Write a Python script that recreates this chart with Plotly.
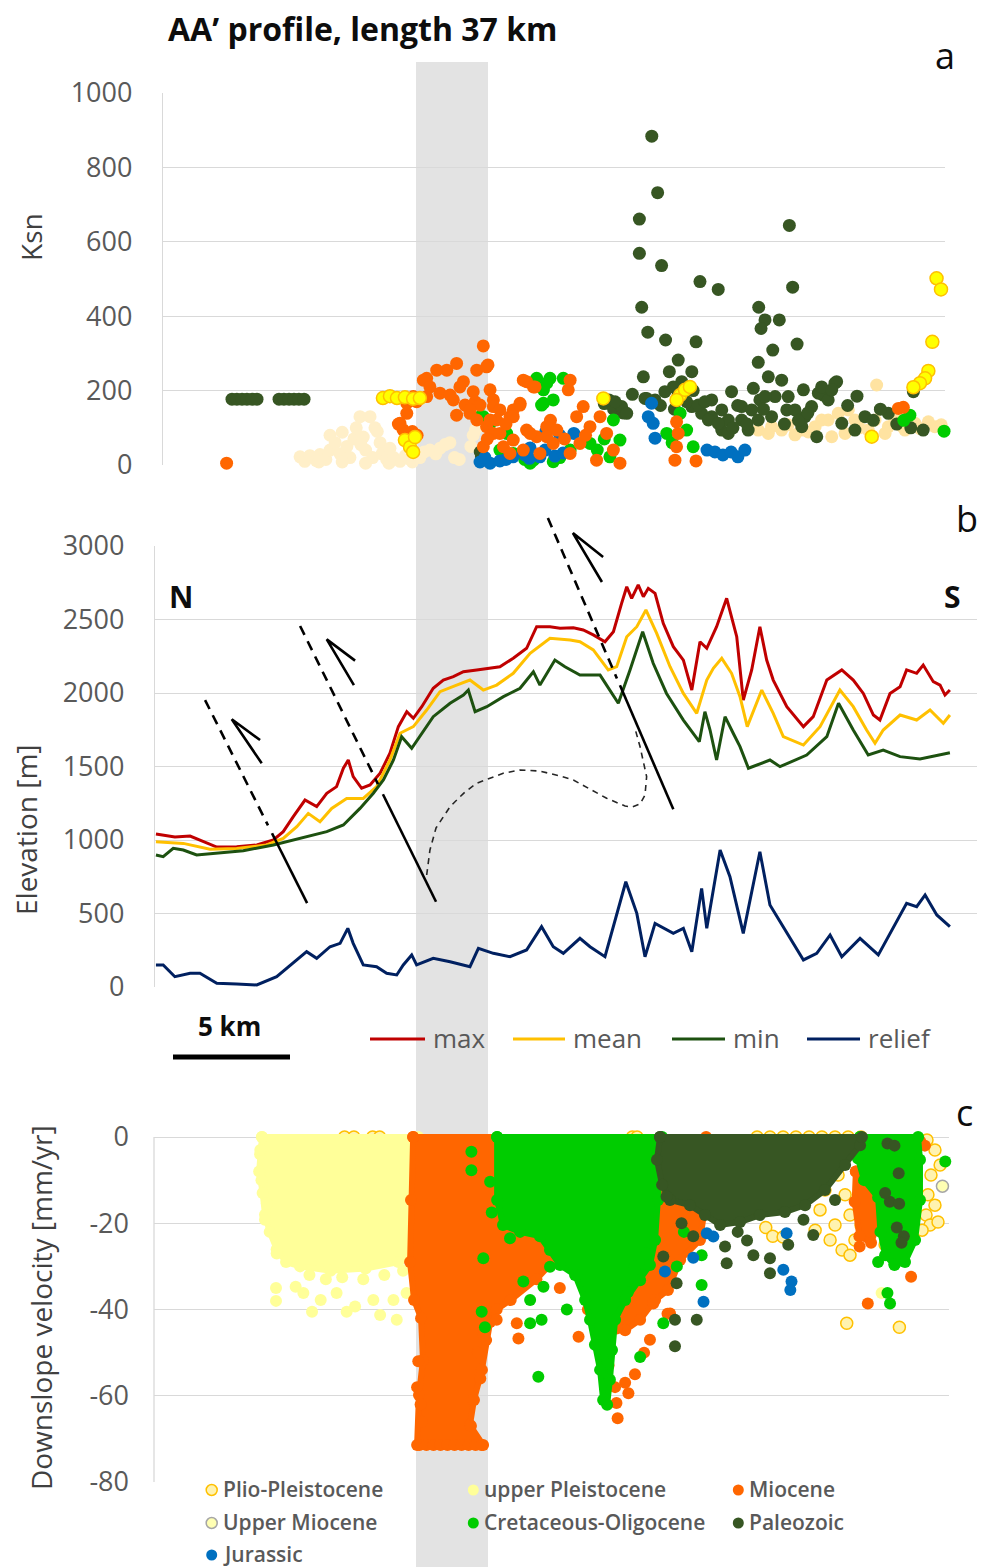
import plotly.graph_objects as go

W, H = 985, 1567
OFF = 8  # page body margin of the html page (px)


def px_x(p):
    return (p - OFF) / W


def px_y(p):
    return 1 - (p - OFF) / H


# ---------------- colours ----------------
PALEO = "#375623"
CRET = "#00CC00"
MIO = "#FF6600"
JUR = "#0070C0"
UPLEI = "#FFFF99"
PLIO_EDGE = "#FFC000"
PLIO_FILL_A = "#FFFF00"
PLIO_FILL_C = "#FFF3B0"
UMIO_FILL = "#FFFFB3"
UMIO_EDGE = "#A6A6A6"
TAN_L = "#FFEFC9"
TAN_R = "#FFE3A1"
LINE_COLORS = {"max": "#C00000", "mean": "#FFC000", "min": "#1D5110", "relief": "#002060"}

# ================= Panel a : Ksn (distance km, Ksn) =================
A_PALEO = [(3.29, 177), (3.50, 177), (3.72, 177), (3.93, 177), (4.15, 177), (4.36, 177),
           (5.30, 177), (5.51, 177), (5.73, 177), (5.94, 177), (6.15, 177), (6.37, 177),
           (13.9, 35), (14.1, 15), (13.95, 22), (19.2, 165), (19.6, 150), (20.0, 140), (19.4, 175),
           (21.23, 884), (21.48, 732), (20.70, 661), (20.70, 569), (21.65, 536), (23.29, 493),
           (24.07, 472), (27.11, 644), (27.25, 478), (20.80, 424), (21.06, 357), (21.82, 336),
           (23.12, 331), (27.44, 325), (25.80, 424), (26.07, 390), (26.68, 390), (25.90, 367),
           (26.40, 309), (25.78, 276), (22.36, 282), (20.87, 237), (21.98, 251), (22.94, 251),
           (26.21, 237), (26.78, 228), (27.71, 202), (29.13, 224), (28.56, 188), (24.64, 197),
           (21.01, 179), (22.51, 224), (22.15, 210), (21.79, 197), (20.94, 179), (21.37, 175),
           (19.94, 157), (19.66, 170), (20.16, 139), (22.94, 157), (23.36, 139), (23.79, 130),
           (24.22, 148), (25.07, 157), (25.57, 206), (25.85, 175), (26.50, 184), (28.35, 193),
           (29.06, 220), (28.77, 175), (28.06, 157), (27.78, 130), (27.64, 103), (23.65, 121),
           (24.22, 94), (24.50, 85), (25.07, 121), (25.35, 94), (25.50, 148), (26.35, 130),
           (27.00, 148), (28.28, 76), (31.34, 139), (32.41, 197), (32.83, 94), (29.35, 112),
           (29.91, 94), (30.34, 130), (22.36, 188), (22.72, 170), (23.22, 161), (23.79, 175),
           (24.50, 121), (24.07, 112), (25.78, 121), (26.07, 184), (27.06, 184), (27.35, 148),
           (28.49, 210), (28.92, 202), (27.5, 120), (27.9, 140), (31.7, 110), (32.3, 100),
           (23.0, 200), (24.9, 160), (25.3, 110), (26.0, 150), (26.9, 110), (24.7, 100),
           (23.5, 170), (22.2, 150), (21.6, 160), (20.4, 190), (29.6, 160), (30.0, 185),
           (30.7, 120), (31.0, 150)]
A_TAN_L = [(6.2, 22), (6.4, 10), (6.62, 25), (6.9, 12), (7.05, 28), (7.3, 15), (7.48, 40),
           (7.48, 80), (7.7, 60), (7.91, 30), (8.0, 88), (8.2, 50), (8.33, 20), (8.5, 70),
           (8.6, 100), (8.76, 130), (8.9, 75), (9.0, 40), (9.19, 130), (9.3, 20), (9.4, 100),
           (9.62, 60), (9.7, 30), (9.9, 15), (10.04, 45), (10.2, 20), (10.47, 10), (10.7, 25),
           (10.9, 15), (11.1, 30), (11.32, 20), (11.5, 35), (11.75, 40), (12.0, 30), (12.18, 45),
           (12.4, 55), (12.6, 60), (12.8, 20), (13.0, 15), (13.5, 50), (13.6, 80), (13.7, 95),
           (7.0, 8), (8.0, 8), (9.0, 5), (10.0, 5), (11.0, 8), (8.8, 55), (9.5, 90)]
A_TAN_R = [(25.78, 94), (26.35, 103), (27.06, 108), (27.64, 94), (28.21, 103), (28.77, 121),
           (29.20, 139), (29.63, 148), (29.91, 121), (30.48, 94), (28.92, 76), (29.49, 85),
           (30.77, 121), (31.34, 103), (32.05, 94), (32.48, 112), (33.05, 116), (33.33, 103),
           (31.20, 85), (31.62, 121), (30.84, 215), (26.21, 85), (26.78, 94), (27.35, 81),
           (27.92, 89), (28.49, 121), (30.1, 100), (31.9, 105), (32.7, 98), (33.6, 108)]
A_PLIO = [(9.74, 180), (10.04, 185), (10.34, 180), (10.68, 182), (11.03, 178), (11.32, 180),
          (10.68, 67), (10.90, 48), (11.11, 75), (11.03, 35), (19.16, 179), (22.44, 188),
          (22.65, 202), (22.86, 210), (22.29, 175), (33.40, 502), (33.59, 472), (33.22, 331),
          (33.05, 253), (32.91, 233), (32.69, 220), (32.41, 209), (30.63, 76)]
A_MIO = [(3.06, 5), (14.03, 320), (14.23, 269), (13.75, 255), (12.89, 273), (12.47, 255),
         (12.04, 255), (11.61, 233), (11.47, 228), (11.75, 210), (12.18, 193), (13.18, 224),
         (13.60, 197), (14.32, 202), (12.75, 175), (13.25, 161), (13.68, 170), (13.89, 161),
         (14.46, 175), (12.89, 134), (13.46, 139), (11.18, 170), (10.76, 139), (10.47, 112),
         (11.04, 85), (14.46, 157), (14.74, 148), (15.17, 130), (15.60, 166), (15.88, 224),
         (16.17, 210), (10.4, 110), (10.6, 95), (11.0, 90), (11.2, 80), (10.76, 166),
         (11.04, 184), (11.61, 184), (12.61, 188), (13.03, 210), (13.46, 148), (13.75, 121),
         (14.17, 103), (14.46, 85), (14.89, 49), (15.31, 67), (15.88, 94), (16.31, 76),
         (16.74, 103), (17.02, 58), (15.17, 31), (15.74, 40), (16.45, 31), (14.03, 49),
         (14.60, 121), (15.31, 148), (15.74, 228), (16.24, 210), (17.74, 228), (17.66, 202),
         (15.60, 161), (14.17, 264), (14.32, 121), (15.31, 130), (14.74, 85), (16.03, 85),
         (16.74, 76), (17.17, 94), (18.30, 157), (18.02, 130), (18.59, 103), (19.02, 130),
         (19.30, 85), (19.59, 40), (19.87, 5), (18.16, 58), (17.74, 31), (18.87, 13),
         (22.29, 116), (22.36, 85), (22.29, 49), (22.22, 13), (23.12, 11), (31.98, 155),
         (31.77, 152), (17.5, 70), (18.4, 80), (16.9, 120), (15.0, 110), (14.2, 70)]
A_CRET = [(16.31, 233), (16.88, 233), (17.45, 233), (16.60, 202), (17.02, 175), (16.52, 161),
          (14.03, 130), (14.32, 112), (14.74, 40), (16.17, 13), (17.02, 9), (17.74, 40),
          (18.59, 58), (19.59, 121), (19.87, 67), (19.44, 22), (22.44, 139), (21.87, 85),
          (22.72, 94), (23.00, 49), (15.31, 31), (33.72, 91), (32.26, 134), (16.74, 220),
          (16.60, 166), (13.89, 130), (15.03, 85), (16.03, 5), (18.9, 40), (17.3, 20),
          (15.8, 15), (19.2, 70), (22.1, 60), (32.0, 120)]
A_JUR = [(21.22, 166), (21.08, 130), (21.29, 112), (21.37, 72), (23.59, 40), (23.93, 35),
         (24.27, 27), (24.62, 35), (24.91, 22), (25.21, 40), (13.89, 8), (14.32, 5),
         (14.74, 11), (15.30, 22), (15.81, 27), (16.45, 22), (17.09, 24), (17.44, 32),
         (16.67, 40), (16.03, 46), (16.7, 90), (17.3, 80), (17.9, 85), (14.1, 20),
         (15.0, 15), (16.0, 18)]

# ================= Panel b : elevation profiles (km, m) =================
MAX_KM = [0.04, 0.35, 0.85, 1.50, 1.92, 2.64, 3.49, 4.35, 5.06, 5.48, 5.91, 6.41, 6.91, 7.34,
          7.76, 8.05, 8.26, 8.47, 8.83, 9.19, 9.62, 10.04, 10.40, 10.76, 11.04, 11.40, 11.89,
          12.32, 12.75, 13.18, 13.75, 14.32, 14.74, 15.31, 15.88, 16.31, 16.88, 17.31, 17.88,
          18.30, 18.73, 19.23, 19.59, 19.94, 20.16, 20.37, 20.65, 20.87, 21.08, 21.37, 21.72,
          22.15, 22.58, 22.94, 23.29, 23.58, 24.00, 24.43, 24.86, 25.14, 25.50, 25.85, 26.14,
          26.42, 27.00, 27.71, 28.13, 28.71, 29.35, 29.84, 30.27, 30.70, 30.98, 31.41, 31.84,
          32.12, 32.55, 32.83, 33.26, 33.55, 33.76, 33.97]
MAX_M = [1041, 1034, 1020, 1027, 1000, 952, 954, 966, 1000, 1057, 1159, 1272, 1227, 1318,
         1363, 1488, 1544, 1431, 1352, 1374, 1454, 1590, 1771, 1873, 1828, 1907, 2032,
         2088, 2111, 2145, 2157, 2168, 2179, 2236, 2304, 2451, 2451, 2440, 2444,
         2429, 2395, 2349, 2417, 2610, 2723, 2644, 2735, 2655, 2712, 2678, 2474,
         2315, 2224, 2020, 2349, 2304, 2451, 2644, 2383, 1952, 2157, 2451, 2224,
         2088, 1907, 1771, 1839, 2088, 2157, 2088, 1997, 1850, 1816, 1997, 2043,
         2157, 2134, 2190, 2077, 2054, 1986, 2020]
MEAN_KM = [0.04, 1.21, 2.35, 3.49, 4.77, 5.48, 6.06, 6.55, 7.05, 7.55, 8.19, 8.90, 9.47, 10.04,
           10.47, 11.04, 11.61, 12.18, 12.89, 13.46, 14.03, 14.60, 15.31, 16.03, 16.88, 17.74,
           18.16, 18.73, 19.37, 19.73, 20.16, 20.59, 20.98, 21.44, 22.01, 22.58, 23.15, 23.58,
           23.86, 24.22, 24.64, 25.00, 25.31, 25.93, 26.42, 26.85, 27.71, 28.42, 29.27, 29.84,
           30.41, 30.77, 31.12, 31.84, 32.55, 33.12, 33.69, 33.97]
MEAN_M = [988, 977, 937, 943, 966, 1011, 1091, 1181, 1125, 1215, 1283, 1283, 1363, 1544,
          1726, 1771, 1884, 2009, 2054, 2088, 2020, 2054, 2134, 2270, 2372, 2361,
          2349, 2293, 2157, 2179, 2383, 2451, 2565, 2406, 2179, 1997, 1862, 2088,
          2168, 2236, 2134, 1975, 1771, 2020, 1862, 1703, 1646, 1771, 2020, 1907,
          1748, 1658, 1748, 1850, 1816, 1884, 1794, 1850]
MIN_KM = [0.04, 0.35, 0.78, 1.21, 1.78, 2.64, 3.77, 5.06, 6.20, 7.34, 8.05, 8.76, 9.33, 9.76,
          10.19, 10.54, 10.97, 11.32, 11.89, 12.61, 13.18, 13.39, 13.68, 14.18, 14.89, 15.60,
          16.17, 16.45, 17.09, 17.52, 18.16, 19.02, 19.44, 19.80, 20.30, 20.84, 21.29, 21.86,
          22.58, 23.26, 23.50, 23.72, 24.00, 24.36, 24.71, 25.00, 25.36, 26.28, 26.71, 27.85,
          28.71, 29.21, 29.84, 30.48, 31.12, 31.84, 32.69, 33.97]
MIN_M = [898, 887, 943, 932, 898, 909, 927, 966, 1011, 1057, 1102, 1215, 1318, 1408,
         1544, 1703, 1624, 1703, 1839, 1930, 1986, 2020, 1873, 1907, 1975, 2032,
         2145, 2054, 2224, 2179, 2122, 2122, 2020, 1930, 2157, 2417, 2202, 1997,
         1816, 1669, 1873, 1748, 1544, 1839, 1726, 1635, 1488, 1544, 1499, 1578,
         1703, 1930, 1748, 1578, 1612, 1567, 1551, 1594]
RELIEF_KM = [0.04, 0.35, 0.85, 1.50, 1.92, 2.64, 3.49, 4.35, 5.20, 5.91, 6.48, 6.91, 7.48, 7.91,
             8.24, 8.47, 8.90, 9.47, 9.90, 10.33, 10.61, 10.97, 11.18, 11.89, 12.61, 13.46,
             13.82, 14.46, 15.17, 15.88, 16.52, 17.02, 17.45, 18.16, 18.59, 19.23, 19.73,
             20.12, 20.59, 20.94, 21.37, 22.15, 22.58, 22.94, 23.36, 23.58, 24.15, 24.57,
             25.14, 25.85, 26.28, 26.85, 27.71, 28.28, 28.85, 29.35, 30.13, 30.91, 31.56,
             32.12, 32.55, 32.91, 33.41, 33.97]
RELIEF_M = [150, 150, 70, 93, 93, 25, 20, 14, 70, 161, 240, 195, 274, 297,
            399, 297, 150, 138, 93, 82, 150, 218, 150, 195, 172, 138,
            263, 229, 206, 252, 410, 274, 229, 331, 274, 206, 501,
            716, 501, 206, 433, 365, 399, 240, 671, 399, 932, 750,
            365, 920, 558, 410, 184, 229, 354, 206, 331, 218, 410,
            569, 546, 626, 490, 410]

# fault sketch (km, m) in panel b
FAULT_DASHED = [((2.14, 1952), (4.83, 1099)), ((6.20, 2456), (9.53, 1380)), ((16.79, 3190), (19.74, 2099))]
FAULT_SOLID = [((5.00, 1046), (6.50, 571)), ((9.74, 1311), (12.01, 580)), ((19.87, 2052), (22.15, 1209))]
ARROWS = [((3.28, 1821), (4.56, 1522), (4.49, 1680)),
          ((7.34, 2365), (8.50, 2054), (8.55, 2220)),
          ((17.86, 3088), (19.10, 2755), (19.15, 2925))]
BURIED_CURVE = [(11.61, 762), (11.75, 932), (12.01, 1082), (12.61, 1227), (13.25, 1327),
                (13.75, 1386), (14.88, 1454), (15.60, 1476), (16.45, 1469), (17.31, 1435),
                (17.88, 1408), (19.30, 1284), (20.09, 1231), (20.38, 1224), (20.73, 1245),
                (20.94, 1306), (21.01, 1431), (20.73, 1634), (20.51, 1760)]

# ================= Panel c : downslope velocity (km, mm/yr) =================
C_UPLEI_AREA = [(4.57, 0), (4.49, -4), (4.45, -8), (4.6, -13), (4.7, -18), (4.9, -22), (5.2, -26),
                (5.6, -29), (6.2, -30), (7.5, -31), (9.0, -30.5), (10.4, -29), (11.0, -27),
                (11.3, -20), (11.25, 0)]
C_MIO_AREA = [(11.03, 0), (10.94, -14.6), (10.90, -29.0), (11.07, -37.8), (11.37, -42.0),
              (11.45, -51.7), (11.28, -59.8), (11.20, -71.4), (14.02, -71.4), (13.46, -66.8),
              (13.63, -61.0), (13.97, -54.0), (14.15, -47.1), (14.32, -42.9), (14.6, -40.0),
              (15.2, -37.8), (16.3, -33.0), (16.9, -29.5), (17.95, -30.8), (19.02, -35.5),
              (19.66, -43.6), (20.09, -44.8), (20.73, -42.4), (21.37, -37.8), (21.92, -35.5),
              (22.44, -28.5), (23.29, -23.9), (23.55, -14.6), (23.55, 0)]
C_MIO_AREA_R = [(29.95, -8), (29.9, -15), (30.1, -23), (30.6, -24.5), (30.9, -20), (30.95, -12), (30.5, -9)]
C_CRET_AREA = [(14.62, 0), (14.62, -14.6), (14.87, -20.4), (15.60, -22.0), (16.45, -23.0),
               (16.88, -26.2), (17.31, -29.7), (17.95, -32.0), (18.38, -37.8), (18.59, -42.4),
               (18.80, -48.2), (19.02, -54.0), (19.15, -61.0), (19.32, -62.1), (19.44, -56.3),
               (19.53, -49.4), (19.66, -42.4), (20.09, -37.8), (20.73, -33.2), (21.15, -29.7),
               (21.37, -23.9), (21.50, -14.6), (21.67, 0)]
C_CRET_AREA_R = [(30.13, 0), (30.04, -5), (30.3, -10), (30.9, -14), (31.0, -22), (31.2, -27.4),
                 (31.6, -29.7), (32.05, -29.0), (32.48, -23.9), (32.69, -14.6), (32.69, -5.3), (32.61, 0)]
C_PALEO_AREA = [(21.58, 0), (21.45, -5.3), (21.67, -11.1), (22.01, -14.6), (22.86, -15.8),
                (23.50, -18.1), (24.15, -20.4), (25.0, -19.7), (25.85, -18.1), (26.92, -17.4),
                (27.78, -15.8), (28.63, -12.3), (29.49, -6.5), (30.13, -1.9), (30.21, 0)]

C_PLIO = [(25.73, 0), (26.28, 0), (26.84, 0), (27.39, 0), (27.95, 0), (28.50, 0), (29.06, 0),
          (29.62, 0), (30.17, 0), (8.1, 0), (8.5, 0), (9.3, 0), (9.6, 0), (20.4, 0), (20.6, 0),
          (32.99, -0.7), (33.33, -3), (33.55, -6.5), (33.16, -8.8), (33.03, -13.4), (33.33, -15.8),
          (32.95, -18.1), (33.12, -20.4), (33.46, -19.7), (32.78, -21.6), (28.08, -8.8),
          (28.63, -12.3), (29.19, -8.8), (29.49, -13.4), (28.42, -16.9), (29.06, -20.4),
          (29.70, -18.1), (28.85, -23.9), (29.36, -26.2), (29.91, -23.9), (28.21, -21.6),
          (29.70, -27.4), (30.17, -20.4), (30.85, -8.1), (30.56, -12.3), (30.98, -16.9),
          (31.20, -25.0), (31.62, -26.2), (29.56, -43.2), (31.81, -44.1), (26.1, -21),
          (26.4, -23), (26.84, -23.2)]
C_UMIO = [(33.65, -11.4)]
C_UPLEI = [(5.17, -35), (5.17, -38), (6.01, -34.7), (6.71, -40.5), (7.08, -37.8), (8.19, -40.5),
           (8.55, -39.3), (9.62, -41.3), (10.33, -42.4), (10.19, -37.8), (10.75, -36.2),
           (9.33, -37.8), (7.76, -36.2), (6.34, -36.2), (4.78, -15.4), (4.70, -19.2), (5.20, -27),
           (4.55, -10), (4.5, -3), (31.05, -36.2), (6.6, -32), (7.3, -33), (8.0, -32.5),
           (8.9, -33), (9.8, -32), (10.6, -31)]
C_MIO = [(11.3, -71.4), (11.6, -71.4), (11.9, -71.4), (12.2, -71.4), (12.5, -71.4), (12.8, -71.4),
         (13.1, -71.4), (13.4, -71.4), (13.7, -71.4), (13.95, -71.4), (11.25, -52), (11.2, -58),
         (11.35, -62), (11.4, -66), (13.8, -50), (13.9, -56), (13.6, -61), (13.5, -67),
         (14.05, -46), (15.46, -43.2), (15.53, -46.7), (14.6, -42.4), (19.38, -53), (20.51, -55),
         (19.66, -58), (20.09, -57), (20.23, -59.4), (19.72, -61.7), (19.77, -65.2),
         (18.10, -46.3), (19.73, -44.4), (21.15, -47), (21.29, -38.6), (22.01, -40.9),
         (17.3, -35), (18.5, -40), (20.9, -50), (21.9, -41), (30.11, -25.4), (32.31, -32.4),
         (30.46, -38.6), (32.7, -1), (32.9, -2)]
C_CRET = [(13.52, -3.4), (13.52, -7.7), (14.32, -10.4), (14.39, -17.5), (15.17, -23.5),
          (14.03, -28.1), (13.96, -40.5), (14.10, -44.1), (16.38, -55.6), (16.03, -37.8),
          (16.52, -42.4), (16.03, -43.2), (15.74, -33.5), (16.60, -34.7), (16.88, -30.1),
          (21.01, -27), (23.36, -34.3), (23.36, -27.4), (21.72, -43.2), (17.6, -40), (18.0, -32),
          (20.2, -36), (20.5, -30), (22.6, -22), (22.3, -30), (20.73, -51), (31.3, -36.2),
          (31.41, -38.6), (33.77, -5.7), (30.9, -29), (31.6, -29.5)]
C_JUR = [(23.58, -22.3), (23.86, -23.1), (23.15, -15.4), (21.79, -31.2), (26.85, -30.8),
         (27.2, -33.5), (27.15, -35.5), (23.44, -38.2), (26.99, -22.3), (23.0, -28)]
C_PALEO = [(21.72, -27.7), (22.29, -33.9), (24.36, -25.4), (24.43, -29.3), (25.57, -27.4),
           (26.28, -28.1), (26.28, -31.6), (27.06, -25), (27.71, -19.2), (28.13, -22.7),
           (29.06, -14.6), (22.22, -42.4), (23.15, -42.4), (22.22, -48.5), (21.86, -13.8),
           (22.5, -20), (23.0, -23), (24.9, -22), (25.3, -24), (31.3, -1.5), (31.6, -2),
           (31.78, -8.4), (31.4, -15), (31.8, -15.5), (31.7, -21), (32.0, -23), (31.9, -24.5),
           (31.2, -13)]

# axis ticks
A_TICKS = [0, 200, 400, 600, 800, 1000]
B_TICKS = [0, 500, 1000, 1500, 2000, 2500, 3000]
C_TICKS = [-80, -60, -40, -20, 0]
C_TICKTEXT = ["-80", "-60", "-40", "-20", "0"]

# ---------------- layout geometry (page pixels) ----------------
XA_DOM = [px_x(163), px_x(945)]
XA_RANGE = [0.342, 33.761]
YA_DOM = [px_y(465), px_y(93)]
XB_DOM = [px_x(155), px_x(985)]
XB_RANGE = [0.0, 35.47]
YB_DOM = [px_y(987), px_y(546)]
YB_RANGE = [0, 3000]
XC_DOM = [px_x(154), px_x(949)]
XC_RANGE = [-0.043, 33.93]
YC_DOM = [px_y(1482), px_y(1130.1)]
YC_RANGE = [-80, 1.6]


def b2p(km, m):
    x = XB_DOM[0] + (km - XB_RANGE[0]) / (XB_RANGE[1] - XB_RANGE[0]) * (XB_DOM[1] - XB_DOM[0])
    y = YB_DOM[0] + (m - YB_RANGE[0]) / (YB_RANGE[1] - YB_RANGE[0]) * (YB_DOM[1] - YB_DOM[0])
    return x, y


def dots(pts, xa, ya, size, fill, edge=None, ew=0):
    return go.Scatter(x=[p[0] for p in pts], y=[p[1] for p in pts], xaxis=xa, yaxis=ya,
                      mode="markers", cliponaxis=False, hoverinfo="skip", showlegend=False,
                      marker=dict(size=size, color=fill, line=dict(color=edge or fill, width=ew)))


def blob(poly, xa, ya, color):
    xs = [p[0] for p in poly] + [poly[0][0]]
    ys = [p[1] for p in poly] + [poly[0][1]]
    return go.Scatter(x=xs, y=ys, xaxis=xa, yaxis=ya, mode="lines+markers", fill="toself",
                      fillcolor=color, line=dict(color=color, width=6),
                      marker=dict(size=12, color=color), cliponaxis=False,
                      hoverinfo="skip", showlegend=False)


fig = go.Figure()

# ---- panel a traces ----
SA = 13
fig.add_trace(dots(A_TAN_L, "x", "y", SA, TAN_L))
fig.add_trace(dots(A_TAN_R, "x", "y", SA, TAN_R))
fig.add_trace(dots(A_PALEO, "x", "y", SA, PALEO))
fig.add_trace(dots(A_CRET, "x", "y", SA, CRET))
fig.add_trace(dots(A_JUR, "x", "y", SA, JUR))
fig.add_trace(dots(A_MIO, "x", "y", SA, MIO))
fig.add_trace(dots(A_PLIO, "x", "y", SA, PLIO_FILL_A, PLIO_EDGE, 1.5))

# ---- panel b traces ----
for name, xs, ys in [("max", MAX_KM, MAX_M), ("mean", MEAN_KM, MEAN_M),
                     ("min", MIN_KM, MIN_M), ("relief", RELIEF_KM, RELIEF_M)]:
    fig.add_trace(go.Scatter(x=xs, y=ys, xaxis="x2", yaxis="y2", mode="lines", name=name,
                             line=dict(color=LINE_COLORS[name], width=3), showlegend=False,
                             hoverinfo="skip"))

# ---- panel c traces ----
SC = 12
fig.add_trace(dots(C_PLIO, "x3", "y3", SC, PLIO_FILL_C, PLIO_EDGE, 1.5))
fig.add_trace(blob(C_UPLEI_AREA, "x3", "y3", UPLEI))
fig.add_trace(dots(C_UPLEI, "x3", "y3", SC, UPLEI))
fig.add_trace(blob(C_MIO_AREA, "x3", "y3", MIO))
fig.add_trace(blob(C_MIO_AREA_R, "x3", "y3", MIO))
fig.add_trace(dots(C_MIO, "x3", "y3", SC, MIO))
fig.add_trace(dots(C_UMIO, "x3", "y3", SC, UMIO_FILL, UMIO_EDGE, 1.5))
fig.add_trace(blob(C_CRET_AREA, "x3", "y3", CRET))
fig.add_trace(blob(C_CRET_AREA_R, "x3", "y3", CRET))
fig.add_trace(dots(C_CRET, "x3", "y3", SC, CRET))
fig.add_trace(dots(C_JUR, "x3", "y3", SC, JUR))
fig.add_trace(blob(C_PALEO_AREA, "x3", "y3", PALEO))
fig.add_trace(dots(C_PALEO, "x3", "y3", SC, PALEO))

# ---------------- shapes ----------------
shapes = []
BAND = "#E3E3E3"
shapes.append(dict(type="rect", xref="paper", yref="paper", x0=px_x(416), x1=px_x(488),
                   y0=0, y1=px_y(62), fillcolor=BAND, line=dict(width=0), layer="below"))
# panel c vertical axis line (only down from 0)
shapes.append(dict(type="line", xref="paper", yref="paper", x0=px_x(154), x1=px_x(154),
                   y0=px_y(1482), y1=px_y(1137), line=dict(color="#D9D9D9", width=1.3)))

# fault sketch
for (p0, p1) in FAULT_DASHED:
    a, b = b2p(*p0), b2p(*p1)
    shapes.append(dict(type="line", xref="paper", yref="paper", x0=a[0], y0=a[1], x1=b[0], y1=b[1],
                       line=dict(color="black", width=2.6, dash="10px,7px")))
for (p0, p1) in FAULT_SOLID:
    a, b = b2p(*p0), b2p(*p1)
    shapes.append(dict(type="line", xref="paper", yref="paper", x0=a[0], y0=a[1], x1=b[0], y1=b[1],
                       line=dict(color="black", width=2.6)))
for tip, end, barb in ARROWS:
    t, e, bb = b2p(*tip), b2p(*end), b2p(*barb)
    path = f"M {e[0]:.5f},{e[1]:.5f} L {t[0]:.5f},{t[1]:.5f} L {bb[0]:.5f},{bb[1]:.5f}"
    shapes.append(dict(type="path", xref="paper", yref="paper", path=path,
                       line=dict(color="black", width=2.6)))
cp = [b2p(*p) for p in BURIED_CURVE]
path = "M " + " L ".join(f"{x:.5f},{y:.5f}" for x, y in cp)
shapes.append(dict(type="path", xref="paper", yref="paper", path=path,
                   line=dict(color="#262626", width=1.6, dash="6px,5px")))

# scale bar
shapes.append(dict(type="line", xref="paper", yref="paper", x0=px_x(173), x1=px_x(290),
                   y0=px_y(1057), y1=px_y(1057), line=dict(color="black", width=5)))

# line legend
LINE_LEGEND = [("max", 370, 425, 431), ("mean", 513, 565, 571),
               ("min", 672, 725, 731), ("relief", 807, 860, 866)]
annotations = []
LEG_FONT = dict(family="Open Sans", size=26, color="#595959")
for name, l0, l1, tx in LINE_LEGEND:
    shapes.append(dict(type="line", xref="paper", yref="paper", x0=px_x(l0), x1=px_x(l1),
                       y0=px_y(1039), y1=px_y(1039), line=dict(color=LINE_COLORS[name], width=3)))
    annotations.append(dict(text=name, x=px_x(tx), y=px_y(1038), xref="paper", yref="paper",
                            xanchor="left", yanchor="middle", showarrow=False, font=LEG_FONT))

# geology legend
GEO_LEGEND = [("Plio-Pleistocene", 211.7, 1490, PLIO_FILL_C, PLIO_EDGE, 1.5),
              ("upper Pleistocene", 473.3, 1490, UPLEI, UPLEI, 0),
              ("Miocene", 738.3, 1490, MIO, MIO, 0),
              ("Upper Miocene", 211.7, 1523, UMIO_FILL, UMIO_EDGE, 1.5),
              ("Cretaceous-Oligocene", 473.3, 1523, CRET, CRET, 0),
              ("Paleozoic", 738.3, 1523, PALEO, PALEO, 0),
              ("Jurassic", 211.7, 1555, JUR, JUR, 0)]
GEO_FONT = dict(family="Open Sans", size=21, color="#595959", weight=600)
R = 5.5
for name, mx, my, fc, ec, ew in GEO_LEGEND:
    shapes.append(dict(type="circle", xref="paper", yref="paper",
                       x0=px_x(mx - R), x1=px_x(mx + R), y0=px_y(my + R), y1=px_y(my - R),
                       fillcolor=fc, line=dict(color=ec, width=ew)))
    annotations.append(dict(text=name, x=px_x(mx + 9), y=px_y(my - 1), xref="paper", yref="paper",
                            xanchor="left", yanchor="middle", showarrow=False, font=GEO_FONT))


# ---------------- text annotations ----------------
def ann(text, x, y, font, xanchor="center", angle=0):
    annotations.append(dict(text=text, x=px_x(x), y=px_y(y), xref="paper", yref="paper",
                            xanchor=xanchor, yanchor="middle", showarrow=False, font=font,
                            textangle=angle))


ann("AA’ profile, length 37 km", 166, 29,
    dict(family="Open Sans", size=32, color="#0D0D0D", weight=700), xanchor="left")
PANEL_FONT = dict(family="Open Sans", size=36, color="#0D0D0D")
ann("a", 945, 55, PANEL_FONT)
ann("b", 967, 519, PANEL_FONT)
ann("c", 964, 1112, PANEL_FONT)
NS_FONT = dict(family="Open Sans", size=30, color="#0D0D0D", weight=700)
ann("N", 180.5, 596, NS_FONT)
ann("S", 952, 596, NS_FONT)
ann("5 km", 229.5, 1026, dict(family="Open Sans", size=26, color="#0D0D0D", weight=700))
AX_FONT = dict(family="Open Sans", size=28, color="#404040")
ann("Ksn", 31, 237, AX_FONT, angle=-90)
ann("Elevation [m]", 26, 830, AX_FONT, angle=-90)
ann("Downslope velocity [mm/yr]", 40.5, 1307.5, AX_FONT, angle=-90)

TICK_FONT = dict(family="Open Sans", size=27, color="#595959")
GRID = "#D9D9D9"


def yax(dom, rng, vals, anchor, text=None, showline=True):
    d = dict(domain=dom, range=rng, tickvals=vals, anchor=anchor, showgrid=True, gridcolor=GRID,
             gridwidth=1.3, zeroline=False, showline=showline, linecolor=GRID, linewidth=1.3,
             ticks="", tickfont=TICK_FONT, ticklabelstandoff=24, fixedrange=True,
             automargin=False)
    if text is not None:
        d["ticktext"] = text
    return d


def xax(dom, rng, anchor):
    return dict(domain=dom, range=rng, anchor=anchor, visible=False, fixedrange=True,
                automargin=False)


fig.update_layout(
    width=W, height=H, margin=dict(l=0, r=0, t=0, b=0, pad=0, autoexpand=False),
    autosize=False,
    paper_bgcolor="white", plot_bgcolor="rgba(0,0,0,0)", showlegend=False,
    xaxis=xax(XA_DOM, XA_RANGE, "y"),
    yaxis=yax(YA_DOM, [0, 1000], A_TICKS, "x"),
    xaxis2=xax(XB_DOM, XB_RANGE, "y2"),
    yaxis2=yax(YB_DOM, YB_RANGE, B_TICKS, "x2"),
    xaxis3=xax(XC_DOM, XC_RANGE, "y3"),
    yaxis3=yax(YC_DOM, YC_RANGE, C_TICKS, "x3", C_TICKTEXT, showline=False),
    shapes=shapes, annotations=annotations,
)

fig.write_html("out.html", config={"displayModeBar": False})
